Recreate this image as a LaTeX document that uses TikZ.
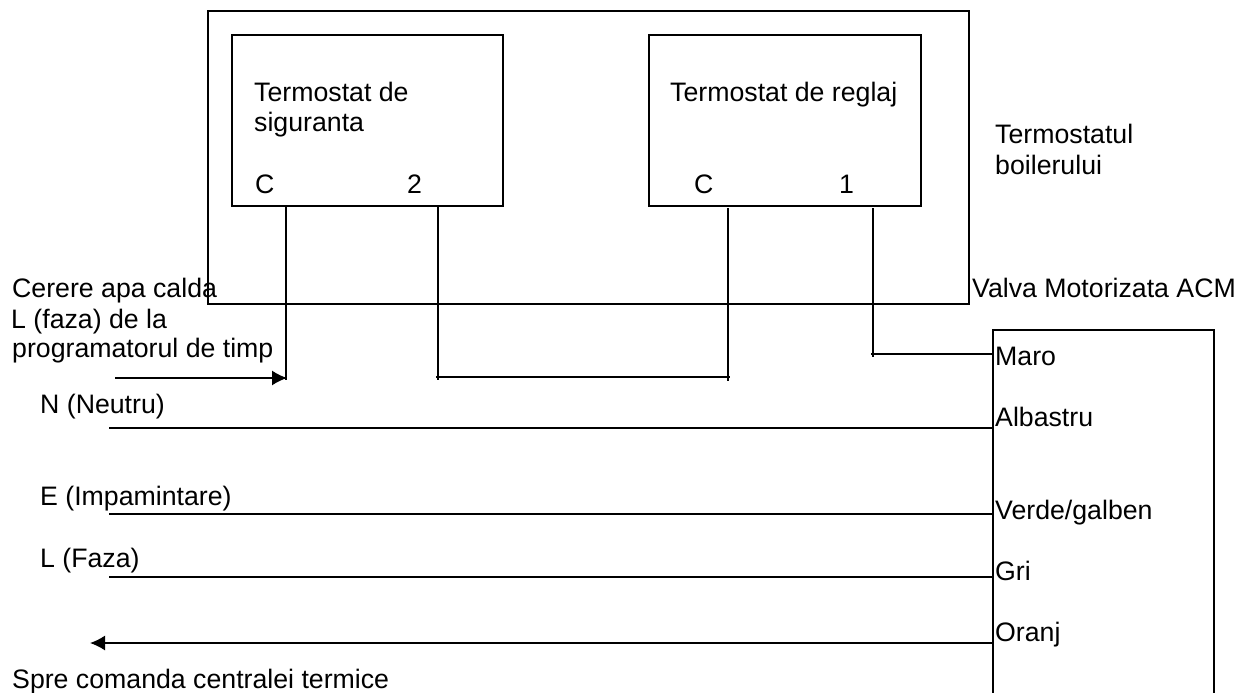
\documentclass[tikz,border=0pt]{standalone}
\usepackage{fontspec}
\setmainfont{Liberation Sans}
\usetikzlibrary{arrows.meta}
\tikzset{
  px/.style={x=1pt,y=-1pt},
  lbl/.style={inner sep=0pt,anchor=base west,font=\fontsize{26.7}{30}\selectfont},
  wire/.style={line width=1.5pt,draw=black},
  tip/.style={-{Latex[length=15pt,width=15pt]}}
}
\begin{document}
\begin{tikzpicture}[px]
\useasboundingbox (0,0) rectangle (1248,693);
\draw[wire] (208,11) rectangle (969,304);
\draw[wire] (232,35) rectangle (503,206);
\draw[wire] (649,35) rectangle (921,206);
\draw[wire] (993,693) -- (993,330) -- (1214,330) -- (1214,693);
\node[lbl] (t1) at (254,101) {Termostat de};
\node[lbl] (t2) at (254,131) {siguranta};
\node[lbl] (c1l) at (255,193) {C};
\node[lbl] (l2) at (407,193) {2};
\node[lbl] (t3) at (670,101) {Termostat de reglaj};
\node[lbl] (c2l) at (694,193) {C};
\node[lbl] (l1) at (839,193) {1};
\node[lbl] (t4) at (995,143) {Termostatul};
\node[lbl] (t5) at (995,174) {boilerului};
\node[lbl] (t6) at (972,297) {Valva Motorizata ACM};
\node[lbl] (t7) at (12,297) {Cerere apa calda};
\node[lbl] (t8) at (11,328) {L (faza) de la};
\node[lbl] (t9) at (12,357) {programatorul de timp};
\node[lbl] (t10) at (40,413) {N (Neutru)};
\node[lbl] (t11) at (40,505) {E (Impamintare)};
\node[lbl] (t12) at (40,567) {L (Faza)};
\node[lbl] (t13) at (12,688) {Spre comanda centralei termice};
\node[lbl] (w1) at (995,365) {Maro};
\node[lbl] (w2) at (995,426) {Albastru};
\node[lbl] (w3) at (995,519) {Verde/galben};
\node[lbl] (w4) at (995,580) {Gri};
\node[lbl] (w5) at (995,641) {Oranj};
\coordinate (cin) at (115,378);
\coordinate (c1) at (287,378);
\coordinate (c1t) at (286,207);
\coordinate (two) at (438,207);
\coordinate (two1) at (436,377);
\coordinate (c2) at (730,377);
\coordinate (c2t) at (728,208);
\coordinate (one) at (873,208);
\coordinate (one1) at (871,354);
\coordinate (maro) at (993,354);
\draw[wire] (c1t) -- (286,380);
\draw[wire,tip] (cin) -- (c1);
\draw[wire] (two) -- (438,380);
\draw[wire] (two1) -- (c2);
\draw[wire] (c2t) -- (728,381);
\draw[wire] (one) -- (873,357);
\draw[wire] (one1) -- (maro);
\draw[wire] (109,428) -- (993,428);
\draw[wire] (109,514) -- (993,514);
\draw[wire] (109,577) -- (993,577);
\draw[wire,tip] (993,643) -- (90,643);
\end{tikzpicture}
\end{document}
